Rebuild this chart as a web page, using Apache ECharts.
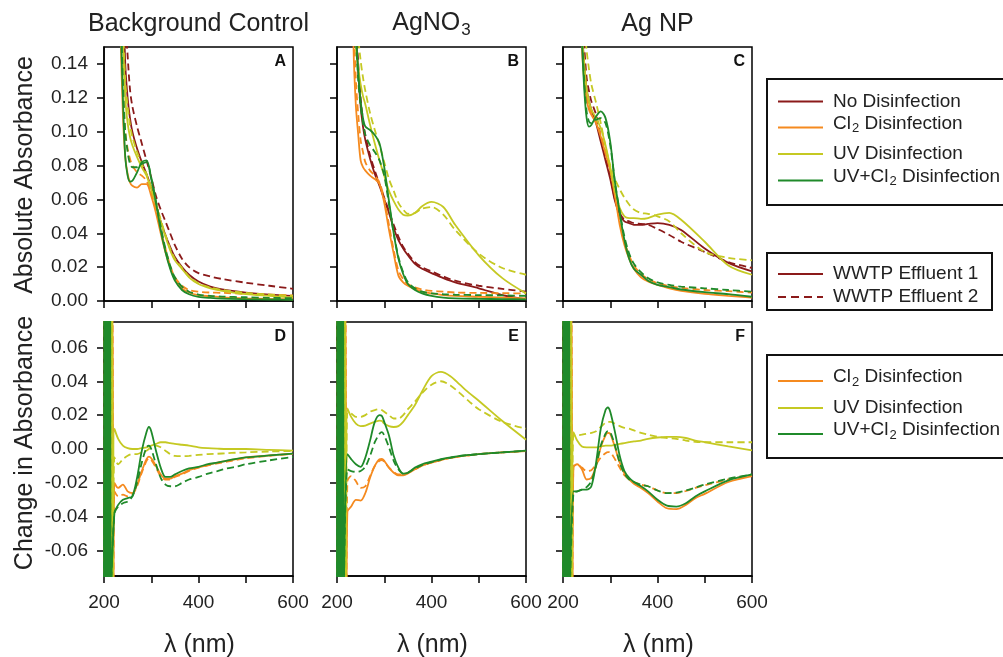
<!DOCTYPE html>
<html><head><meta charset="utf-8">
<script src="https://cdn.jsdelivr.net/npm/echarts@6/dist/echarts.min.js"></script>
<style>html,body{margin:0;padding:0;background:#fff}#c{width:1003px;height:657px}</style>
</head><body><div id="c"></div>
<script>
// ---------- wavelengths ----------
const topX = [225,235,240,245,250,255,260,270,280,290,300,310,320,330,340,350,365,380,400,425,450,500,550,600];
const botX = [222,230,240,250,260,270,280,290,295,300,310,320,330,340,350,365,380,400,420,440,460,480,500,550,600];
// noisy region near 200-220 nm (bottom panels)
const bandGX = [200,201,202,203,204,205,206,207,208,209,210,211,212,213,214];
const bandG  = [-0.09,0.09,-0.09,0.09,-0.09,0.09,-0.09,0.09,-0.09,0.09,-0.09,0.09,-0.09,0.09,-0.09];
const bandYX = [201,203,205,207,209,211,213,215,217,219];
const bandY  = [0.09,-0.09,0.09,-0.09,0.09,-0.09,0.09,-0.09,0.09,-0.09];
const bandOX = [200,202,204,206,208,210,212,214,216,218,220];
const bandO  = [-0.09,0.09,-0.09,0.09,-0.09,0.09,-0.09,0.09,-0.09,0.09,-0.09];

// ---------- Panel A: Background Control (absolute) ----------
const aNo1 = [0.40,0.24,0.19,0.14,0.12,0.108,0.100,0.090,0.082,0.075,0.067,0.057,0.047,0.039,0.032,0.026,0.020,0.0155,0.0115,0.0085,0.0068,0.005,0.0038,0.003];
const aNo2 = [0.40,0.30,0.22,0.17,0.145,0.125,0.115,0.103,0.093,0.083,0.073,0.062,0.054,0.047,0.040,0.033,0.025,0.020,0.0165,0.0145,0.013,0.0108,0.009,0.0072];
const aCl1 = [0.30,0.16,0.11,0.085,0.075,0.070,0.068,0.067,0.069,0.069,0.062,0.052,0.040,0.029,0.020,0.013,0.0075,0.005,0.0035,0.0028,0.0022,0.0016,0.0012,0.001];
const aCl2 = [0.30,0.17,0.125,0.10,0.09,0.084,0.080,0.076,0.074,0.071,0.064,0.054,0.042,0.031,0.021,0.014,0.009,0.0065,0.0055,0.005,0.0048,0.0042,0.0038,0.0033];
const aUV1 = [0.40,0.20,0.155,0.12,0.105,0.097,0.092,0.085,0.079,0.074,0.066,0.057,0.047,0.038,0.030,0.024,0.019,0.014,0.010,0.0075,0.006,0.004,0.003,0.002];
const aUV2 = [0.40,0.21,0.165,0.13,0.115,0.104,0.097,0.088,0.081,0.075,0.067,0.058,0.048,0.039,0.031,0.025,0.0195,0.0145,0.0105,0.008,0.0065,0.0048,0.0038,0.003];
const aUC1 = [0.30,0.17,0.12,0.085,0.074,0.0705,0.071,0.076,0.082,0.083,0.072,0.058,0.042,0.029,0.019,0.012,0.0065,0.004,0.0025,0.0018,0.0014,0.0011,0.0009,0.0007];
const aUC2 = [0.30,0.18,0.13,0.10,0.088,0.081,0.079,0.079,0.081,0.082,0.073,0.059,0.044,0.031,0.021,0.014,0.0085,0.0055,0.0038,0.003,0.0026,0.0022,0.0019,0.0016];
// ---------- Panel B: AgNO3 (absolute) ----------
const bNo1 = [0.40,0.20,0.16,0.135,0.115,0.103,0.095,0.084,0.075,0.068,0.060,0.052,0.043,0.036,0.031,0.027,0.022,0.019,0.0165,0.0135,0.011,0.0075,0.0035,0.001];
const bNo2 = [0.40,0.21,0.165,0.14,0.12,0.107,0.098,0.086,0.077,0.069,0.061,0.053,0.045,0.038,0.032,0.028,0.023,0.020,0.0175,0.0145,0.012,0.009,0.0072,0.0055];
const bCl1 = [0.35,0.15,0.115,0.098,0.083,0.079,0.077,0.074,0.072,0.069,0.058,0.042,0.028,0.015,0.011,0.009,0.007,0.0055,0.0045,0.0035,0.003,0.0025,0.002,0.0015];
const bCl2 = [0.35,0.17,0.13,0.11,0.095,0.088,0.082,0.077,0.074,0.070,0.060,0.045,0.030,0.018,0.013,0.010,0.008,0.0068,0.006,0.0055,0.005,0.0048,0.0046,0.0045];
const bUV1 = [0.40,0.20,0.15,0.138,0.128,0.121,0.116,0.104,0.093,0.083,0.074,0.065,0.059,0.054,0.051,0.0505,0.052,0.056,0.0585,0.0555,0.045,0.027,0.0135,0.0045];
const bUV2 = [0.40,0.22,0.17,0.155,0.142,0.132,0.124,0.111,0.101,0.092,0.082,0.072,0.065,0.058,0.054,0.0515,0.052,0.0545,0.0555,0.051,0.042,0.028,0.0195,0.0155];
const bUC1 = [0.40,0.20,0.16,0.135,0.118,0.108,0.103,0.101,0.098,0.093,0.079,0.059,0.040,0.025,0.016,0.010,0.0065,0.0045,0.003,0.002,0.0016,0.0013,0.0011,0.001];
const bUC2 = [0.40,0.19,0.155,0.13,0.115,0.105,0.098,0.092,0.088,0.083,0.074,0.057,0.040,0.026,0.017,0.011,0.0075,0.0055,0.0045,0.004,0.0037,0.0035,0.0033,0.003];
// ---------- Panel C: Ag NP (absolute) ----------
const cNo1 = [0.40,0.20,0.16,0.14,0.125,0.118,0.113,0.105,0.094,0.083,0.072,0.059,0.051,0.047,0.046,0.045,0.045,0.0455,0.046,0.045,0.042,0.031,0.0225,0.0175];
const cNo2 = [0.40,0.22,0.17,0.15,0.132,0.124,0.118,0.110,0.097,0.085,0.074,0.060,0.052,0.048,0.047,0.046,0.0455,0.045,0.0425,0.039,0.035,0.029,0.023,0.0195];
const cCl1 = [0.40,0.20,0.15,0.13,0.119,0.113,0.110,0.105,0.097,0.087,0.077,0.062,0.045,0.033,0.025,0.019,0.014,0.0115,0.0095,0.0075,0.006,0.0042,0.003,0.002];
const cCl2 = [0.40,0.21,0.16,0.135,0.122,0.115,0.111,0.106,0.098,0.088,0.078,0.063,0.047,0.035,0.027,0.021,0.016,0.013,0.0105,0.0088,0.0078,0.0065,0.0058,0.005];
const cUV1 = [0.40,0.20,0.16,0.14,0.125,0.118,0.113,0.108,0.102,0.092,0.079,0.065,0.055,0.050,0.049,0.049,0.0485,0.049,0.051,0.052,0.048,0.035,0.021,0.0155];
const cUV2 = [0.40,0.25,0.20,0.165,0.148,0.137,0.128,0.117,0.105,0.091,0.080,0.072,0.066,0.061,0.057,0.054,0.052,0.0515,0.050,0.047,0.040,0.029,0.0255,0.024];
const cUC1 = [0.40,0.20,0.155,0.125,0.108,0.103,0.104,0.109,0.112,0.108,0.094,0.070,0.052,0.036,0.025,0.019,0.0155,0.012,0.0095,0.0082,0.0068,0.0052,0.004,0.0025];
const cUC2 = [0.40,0.20,0.16,0.13,0.112,0.106,0.105,0.107,0.108,0.105,0.092,0.070,0.053,0.038,0.028,0.022,0.017,0.0135,0.011,0.0095,0.0085,0.0075,0.0065,0.0055];
// ---------- Panel D: Background Control (change) ----------
const dCl1 = [-0.020,-0.023,-0.021,-0.025,-0.026,-0.021,-0.013,-0.006,-0.0045,-0.0055,-0.010,-0.015,-0.0175,-0.0175,-0.016,-0.0145,-0.0125,-0.0108,-0.0095,-0.008,-0.007,-0.006,-0.005,-0.0038,-0.0027];
const dCl2 = [-0.025,-0.028,-0.027,-0.028,-0.027,-0.022,-0.014,-0.007,-0.0055,-0.0065,-0.011,-0.016,-0.018,-0.018,-0.0165,-0.015,-0.013,-0.011,-0.0097,-0.0085,-0.0075,-0.0065,-0.0055,-0.004,-0.003];
const dUV1 = [0.012,0.006,0.002,0.0005,0,0,0.0005,0.001,0.0015,0.002,0.003,0.004,0.004,0.0035,0.003,0.0025,0.002,0.001,0.0005,0.0002,0,0,0,-0.0005,-0.001];
const dUV2 = [-0.005,-0.009,-0.006,-0.004,-0.003,-0.003,-0.002,-0.001,0,0.001,0.002,0.001,-0.001,-0.003,-0.004,-0.0042,-0.004,-0.0035,-0.003,-0.0028,-0.0025,-0.0022,-0.002,-0.0015,-0.0012];
const dUC1 = [-0.038,-0.033,-0.030,-0.029,-0.028,-0.017,-0.001,0.010,0.013,0.0105,-0.001,-0.011,-0.0165,-0.0165,-0.015,-0.013,-0.0115,-0.0105,-0.009,-0.008,-0.0068,-0.0058,-0.005,-0.0038,-0.0027];
const dUC2 = [-0.038,-0.034,-0.032,-0.031,-0.028,-0.020,-0.008,0.001,0.002,0,-0.009,-0.017,-0.021,-0.022,-0.022,-0.020,-0.018,-0.0165,-0.0145,-0.013,-0.0115,-0.0105,-0.009,-0.0067,-0.0047];
// ---------- Panel E: AgNO3 (change) ----------
const eCl1 = [-0.037,-0.034,-0.030,-0.0305,-0.026,-0.017,-0.010,-0.006,-0.0058,-0.007,-0.011,-0.014,-0.0155,-0.0155,-0.0145,-0.012,-0.0098,-0.008,-0.0065,-0.0053,-0.0043,-0.0037,-0.003,-0.002,-0.0012];
const eCl2 = [-0.019,-0.016,-0.019,-0.023,-0.022,-0.016,-0.010,-0.007,-0.0065,-0.0075,-0.011,-0.0135,-0.015,-0.015,-0.014,-0.012,-0.0098,-0.008,-0.0065,-0.0053,-0.0043,-0.0037,-0.003,-0.002,-0.0012];
const eUV1 = [0.024,0.019,0.015,0.0135,0.0138,0.015,0.016,0.0168,0.0165,0.015,0.0135,0.013,0.0135,0.016,0.020,0.026,0.034,0.043,0.0455,0.043,0.038,0.033,0.0285,0.0165,0.0055];
const eUV2 = [0.022,0.021,0.019,0.019,0.020,0.022,0.023,0.0235,0.023,0.022,0.020,0.018,0.018,0.020,0.0235,0.028,0.033,0.038,0.040,0.0375,0.033,0.028,0.0235,0.016,0.012];
const eUC1 = [-0.003,-0.006,-0.009,-0.0105,-0.005,0.005,0.016,0.020,0.0195,0.016,0.008,-0.004,-0.011,-0.0145,-0.014,-0.011,-0.009,-0.0075,-0.006,-0.005,-0.004,-0.0035,-0.003,-0.002,-0.001];
const eUC2 = [-0.012,-0.013,-0.0135,-0.013,-0.0105,-0.004,0.004,0.009,0.010,0.008,0.001,-0.007,-0.012,-0.0145,-0.014,-0.0115,-0.0095,-0.0078,-0.0063,-0.0052,-0.0042,-0.0036,-0.003,-0.002,-0.001];
// ---------- Panel F: Ag NP (change) ----------
const fCl1 = [-0.011,-0.009,-0.012,-0.018,-0.017,-0.010,0.001,0.008,0.0095,0.009,0.001,-0.008,-0.0145,-0.018,-0.0205,-0.023,-0.026,-0.031,-0.035,-0.0355,-0.033,-0.029,-0.0265,-0.0195,-0.016];
const fCl2 = [-0.010,-0.0095,-0.011,-0.013,-0.0125,-0.009,-0.005,-0.0025,-0.0018,-0.002,-0.006,-0.011,-0.0155,-0.018,-0.0195,-0.021,-0.022,-0.0245,-0.026,-0.026,-0.0248,-0.023,-0.0215,-0.018,-0.0155];
const fUV1 = [0.010,0.005,0.0015,0.001,0.001,0.001,0.0015,0.002,0.002,0.002,0.0025,0.003,0.0035,0.004,0.0045,0.005,0.006,0.0068,0.0072,0.0072,0.0065,0.005,0.004,0.0015,-0.0008];
const fUV2 = [0.008,0.008,0.0085,0.009,0.0095,0.0105,0.013,0.0155,0.016,0.016,0.015,0.0135,0.0125,0.012,0.011,0.0095,0.0085,0.0072,0.0065,0.006,0.005,0.0042,0.004,0.004,0.004];
const fUC1 = [-0.025,-0.025,-0.024,-0.024,-0.022,-0.008,0.012,0.023,0.0245,0.022,0.010,-0.004,-0.013,-0.017,-0.0195,-0.022,-0.025,-0.030,-0.0335,-0.034,-0.032,-0.028,-0.025,-0.0185,-0.015];
const fUC2 = [-0.026,-0.025,-0.024,-0.0225,-0.019,-0.010,0.002,0.009,0.0105,0.010,0.002,-0.008,-0.0145,-0.018,-0.0195,-0.021,-0.022,-0.0245,-0.026,-0.0258,-0.0245,-0.0228,-0.021,-0.0175,-0.015];

// ---------- ticks & labels ----------
const xTicks = [200,300,400,500,600];
const xLabels = [200,400,600];
const yTopTicks = [0,0.02,0.04,0.06,0.08,0.10,0.12,0.14];
const yBotTicks = [-0.06,-0.04,-0.02,0,0.02,0.04,0.06];
const colTitles = ['Background Control','AgNO{s|3}','Ag NP'];
const panelLetters = ['A','B','C','D','E','F'];

// ---------- styling ----------
const FONT = '"Liberation Sans", Arial, sans-serif';
const COL = {no:'#8B1A1A', cl:'#F58A1F', uv:'#C5C923', uc:'#1F8A2A'};
const DASH = [7,4];
const colLeft = [104,337,563];
const PW = 189, PH = 254, TOP1 = 47, TOP2 = 322;

const topPanels = [
  {no:[aNo1,aNo2], cl:[aCl1,aCl2], uv:[aUV1,aUV2], uc:[aUC1,aUC2]},
  {no:[bNo1,bNo2], cl:[bCl1,bCl2], uv:[bUV1,bUV2], uc:[bUC1,bUC2]},
  {no:[cNo1,cNo2], cl:[cCl1,cCl2], uv:[cUV1,cUV2], uc:[cUC1,cUC2]}
];
const botPanels = [
  {cl:[dCl1,dCl2], uv:[dUV1,dUV2], uc:[dUC1,dUC2]},
  {cl:[eCl1,eCl2], uv:[eUV1,eUV2], uc:[eUC1,eUC2]},
  {cl:[fCl1,fCl2], uv:[fUV1,fUV2], uc:[fUC1,fUC2]}
];
const bands = {cl:[bandOX,bandO], uv:[bandYX,bandY], uc:[bandGX,bandG]};

function pairs(xs, ys){ return xs.map((x,i)=>[x, ys[i]]); }

const grids=[], xAxes=[], yAxes=[], series=[];
for (let r=0;r<2;r++){
  for (let c=0;c<3;c++){
    const gi = r*3+c;
    grids.push({left:colLeft[c], top: r?TOP2:TOP1, width:PW, height:PH, show:true,
      borderColor:'#000', borderWidth:1.5, backgroundColor:'transparent'});
    xAxes.push({type:'value', gridIndex:gi, min:200, max:600, position:'bottom',
      axisLine:{onZero:false, lineStyle:{color:'#000', width:1.5}},
      axisTick:{length:7, lineStyle:{color:'#000', width:1.5}, customValues:xTicks},
      axisLabel:{show: r===1, customValues:xLabels, fontSize:19, fontFamily:FONT, color:'#222', margin:17},
      splitLine:{show:false}});
    const yt = r? yBotTicks : yTopTicks;
    yAxes.push({type:'value', gridIndex:gi, min: r?-0.075:0, max: r?0.075:0.15,
      axisLine:{show:true, onZero:false, lineStyle:{color:'#000', width:1.5}},
      axisTick:{show:true, length:7, lineStyle:{color:'#000', width:1.5}, customValues:yt},
      axisLabel:{show: c===0, customValues:yt, fontSize:19, fontFamily:FONT, color:'#222', margin:16,
        formatter: v => (Math.abs(v)<1e-9 ? 0 : v).toFixed(2)},
      splitLine:{show:false}});
  }
}
function addLine(gi, data, color, dashed){
  series.push({type:'line', xAxisIndex:gi, yAxisIndex:gi, data, symbol:'none', showSymbol:false,
    smooth:0.3, clip:true, silent:true, animation:false,
    lineStyle:{color, width:1.8, type: dashed?DASH:'solid'}});
}
topPanels.forEach((p,c)=>{
  ['no','cl','uv','uc'].forEach(k=>{
    p[k].forEach((ys,j)=> addLine(c, pairs(topX, ys), COL[k], j===1));
  });
});
botPanels.forEach((p,c)=>{
  ['cl','uv','uc'].forEach(k=>{
    p[k].forEach((ys,j)=> addLine(3+c, pairs(bands[k][0], bands[k][1]).concat(pairs(botX, ys)), COL[k], j===1));
  });
});

// ---------- text & legends ----------
const g = [];
const subRich = (fs, sfs, lh, pad) => ({
  m:{fontSize:fs, fontFamily:FONT, fill:'#222', lineHeight:lh, verticalAlign:'top'},
  s:{fontSize:sfs, fontFamily:FONT, fill:'#222', lineHeight:sfs, verticalAlign:'bottom', padding:[pad,0,0,1]}
});
colTitles.forEach((t,c)=>{
  const cx = colLeft[c] + PW/2;
  if (t.indexOf('{')>=0){
    g.push({type:'text', x:cx, y:25, style:{text:'{m|AgNO}{s|3}', textAlign:'center', textVerticalAlign:'middle',
      fontSize:25, fontFamily:FONT, fill:'#222', rich:subRich(25,17,28,14)}});
  } else {
    g.push({type:'text', x:cx, y:24, style:{text:t, textAlign:'center', textVerticalAlign:'middle',
      fontSize:25, fontFamily:FONT, fill:'#222'}});
  }
  g.push({type:'text', x:cx+1, y:645, style:{text:'λ (nm)', textAlign:'center', textVerticalAlign:'middle',
    fontSize:25, fontFamily:FONT, fill:'#222'}});
});
g.push({type:'text', x:25, y:175, rotation:Math.PI/2, style:{text:'Absolute Absorbance', textAlign:'center',
  textVerticalAlign:'middle', fontSize:25, fontFamily:FONT, fill:'#222'}});
g.push({type:'text', x:25, y:443, rotation:Math.PI/2, style:{text:'Change in Absorbance', textAlign:'center',
  textVerticalAlign:'middle', fontSize:25, fontFamily:FONT, fill:'#222'}});
panelLetters.forEach((L,i)=>{
  const r = Math.floor(i/3), c = i%3;
  g.push({type:'text', x:colLeft[c]+PW-7, y:(r?TOP2:TOP1)+7, style:{text:L, textAlign:'right', textVerticalAlign:'top',
    font:'bold 16px '+FONT, fill:'#111'}});
});
// legend boxes
[[767,79,260,126],[767,253,225,57],[767,355,260,103]].forEach(b=>{
  g.push({type:'rect', shape:{x:b[0],y:b[1],width:b[2],height:b[3]}, style:{fill:'none', stroke:'#111', lineWidth:2}});
});
const legendRows = [
  {y:101.5, color:COL.no, text:'No Disinfection'},
  {y:127.5, color:COL.cl, text:'{m|Cl}{s|2}{m| Disinfection}', sub:true},
  {y:154, color:COL.uv, text:'UV Disinfection'},
  {y:180.5, color:COL.uc, text:'{m|UV+Cl}{s|2}{m| Disinfection}', sub:true},
  {y:274, color:COL.no, text:'WWTP Effluent 1'},
  {y:297, color:COL.no, text:'WWTP Effluent 2', dashed:true},
  {y:381, color:COL.cl, text:'{m|Cl}{s|2}{m| Disinfection}', sub:true},
  {y:408, color:COL.uv, text:'UV Disinfection'},
  {y:434, color:COL.uc, text:'{m|UV+Cl}{s|2}{m| Disinfection}', sub:true}
];
legendRows.forEach(r=>{
  g.push({type:'line', shape:{x1:778,y1:r.y,x2:823,y2:r.y}, style:{stroke:r.color, lineWidth:2, lineDash: r.dashed?[8,5]:null}});
  if (r.sub){
    g.push({type:'text', x:833, y:r.y-3, style:{text:r.text, textVerticalAlign:'middle', fontSize:19, fontFamily:FONT,
      fill:'#222', rich:subRich(19,13,21,10)}});
  } else {
    g.push({type:'text', x:833, y:r.y, style:{text:r.text, textVerticalAlign:'middle', fontSize:19, fontFamily:FONT, fill:'#222'}});
  }
});

const chart = echarts.init(document.getElementById('c'), null, {renderer:'canvas'});
chart.setOption({
  backgroundColor:'#fff', animation:false,
  grid:grids, xAxis:xAxes, yAxis:yAxes, series, graphic:g
});
</script></body></html>
